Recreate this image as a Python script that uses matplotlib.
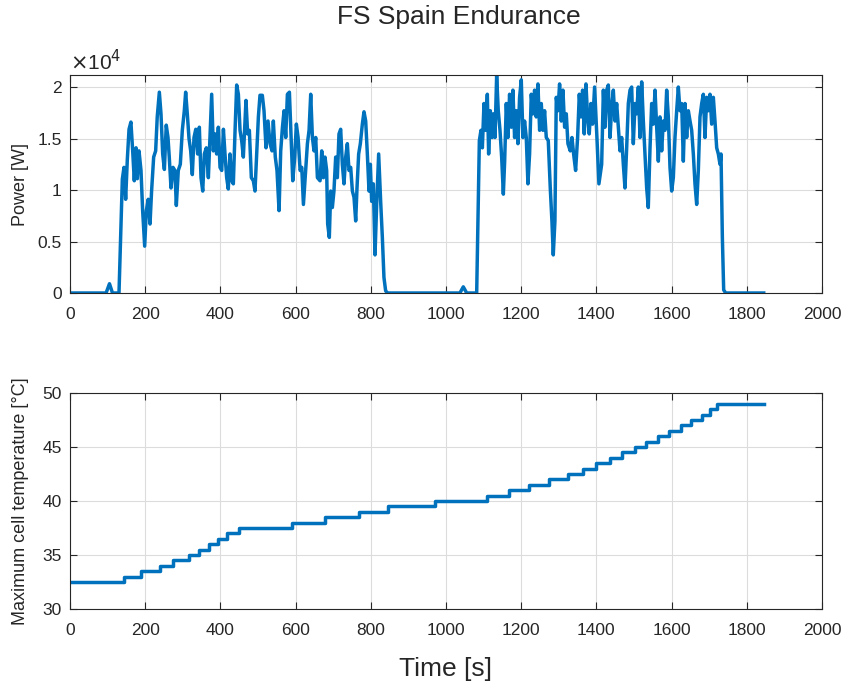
import matplotlib
matplotlib.use("Agg")
import matplotlib.pyplot as plt
import numpy as np
from matplotlib.ticker import FuncFormatter

plt.rcParams['font.family'] = ['Liberation Sans', 'DejaVu Sans']

# ---- Data ----
# Power trace (time in s, power in units of 1e4 W)
power_t = [0, 96, 105, 113, 130.3,
           139.2, 143.6, 148, 152.5, 157, 162, 166.7, 171, 175.6, 179, 183.5, 188.8, 193.2, 198.6,
           203, 208, 212.8, 217, 222.5, 227.8, 232, 237.6, 242, 246.5, 251, 256, 260.6, 264, 268.6,
           274, 279, 282.8, 288, 293.4, 298.7, 304, 307.6, 312, 316.5, 321, 325.3, 329.8, 334.5,
           339.5, 344, 348.4, 353, 357.3, 362.6, 368, 372.3, 376.8, 381.3,
           385.6, 390, 394.5, 399, 403.5, 408, 412.2, 416.7, 421, 425.5, 430, 434.4, 439, 443.3,
           447.8, 452.2, 456.6, 461, 465.4, 468, 472.5, 477, 482.3, 487.6, 492, 496.5, 501, 505.3,
           511.5, 516, 521.3, 526.6, 532, 537.3, 540.8, 546, 550.5, 556, 560.4, 565, 569.3, 573.7,
           578.2, 583.5, 588, 592.4, 597.7, 602, 606.6, 612, 616.4, 620.8, 626, 631.4, 635.8,
           640.2, 644.7, 649, 653.5, 658,
           665, 669.5, 674, 678.2, 682.6, 685.3, 689.7, 693.3, 697.7, 702, 706.6, 711, 715.4,
           719.9, 724.3, 728.7, 733.2, 737.6, 742, 746.5, 751, 755.3, 759.8, 763.3, 767.7, 772.2,
           777.5, 781.9, 786.4, 790.8, 795.2, 798.8, 802.3, 806.7, 811.2, 815.6, 820.9, 826.2,
           830.7, 835, 839.5, 845,
           1037, 1046, 1055, 1081.6,
           1088.7, 1093, 1096.7, 1101, 1105.5, 1109.9, 1113.4, 1117.8, 1122.3, 1125.9, 1130.3,
           1134.7, 1139, 1143.6, 1148, 1152.5, 1156, 1160.3, 1164.7, 1169.1, 1173.6, 1178, 1182.4,
           1186.9, 1191.3, 1195.7, 1200.2, 1204.6, 1209, 1213.5, 1217.9, 1222.3, 1226.8, 1231.2,
           1235.6, 1240, 1244.5, 1249, 1253.4, 1257.8, 1262.2, 1266.7, 1272, 1277.3, 1281.7,
           1285.3, 1289.7, 1293.3, 1297.7, 1302.1, 1306.6, 1311, 1315.5, 1319.9, 1324.3, 1330.5,
           1335, 1339.4, 1344.7, 1350, 1354.5, 1358.9, 1363.3, 1367.7, 1372.2, 1376.6, 1381,
           1385.5, 1389.9, 1395.2, 1401.4, 1406.7,
           1414, 1418.5, 1422.9, 1427.3, 1431.7, 1436.2, 1440.6, 1445, 1449.5, 1453.9, 1458.3,
           1462.8, 1467.2, 1471.6, 1476, 1480.5, 1484.9, 1489.4, 1493.8, 1498.2, 1502.7, 1507,
           1511.5, 1516, 1520.4, 1524.8, 1529.2, 1533.7, 1538, 1542.6, 1547, 1551.4, 1555.9,
           1560.3, 1564.7, 1569.1, 1573.6, 1578, 1582.4, 1586.9, 1591.3, 1595.7, 1600.2, 1604.6,
           1609, 1613.5, 1617.9, 1622.3, 1626.8, 1631.2, 1635.6, 1640.1, 1644.5, 1649, 1653.4,
           1657.8, 1662.2, 1666.7, 1671.1, 1675.5, 1680, 1684.4, 1688.8, 1693.3, 1697.7, 1702.1,
           1706.6, 1711, 1715.4, 1719.9, 1724.3, 1728.7, 1731.4, 1735, 1738.5, 1743.8, 1845]

power_val = [0, 0, 0.09, 0, 0,
             1.106, 1.22, 0.91, 1.30, 1.59, 1.66, 1.38, 1.09, 1.41, 1.11, 1.38, 1.19, 0.80, 0.455,
             0.80, 0.91, 0.67, 0.99, 1.32, 1.38, 1.71, 1.95, 1.74, 1.35, 1.20, 1.63, 1.51, 1.32, 1.02,
             1.22, 1.19, 0.85, 1.19, 1.25, 1.58, 1.77, 1.95, 1.74, 1.50, 1.38, 1.15, 1.51, 1.59,
             1.35, 1.61, 1.12, 0.99, 1.35, 1.41, 1.12, 1.51, 1.93, 1.38,
             1.545, 1.35, 1.61, 1.22, 1.19, 1.59, 1.35, 1.12, 1.01, 1.35, 1.09, 1.06, 1.58, 2.02,
             1.93, 1.58, 1.48, 1.32, 1.67, 1.87, 1.545, 1.58, 1.12, 1.09, 0.99, 1.35, 1.71, 1.92,
             1.92, 1.77, 1.41, 1.67, 1.45, 1.38, 1.67, 1.32, 1.19, 0.80, 1.38, 1.61, 1.77, 1.51,
             1.93, 1.95, 1.51, 1.09, 1.32, 1.64, 1.51, 1.19, 1.22, 0.86, 1.15, 1.45, 1.58,
             1.93, 1.51, 1.38, 1.51, 1.12,
             1.09, 1.38, 1.12, 1.32, 1.19, 0.67, 0.54, 0.99, 0.83, 0.99, 1.32, 1.12, 1.545,
             1.59, 1.25, 1.06, 1.32, 1.45, 1.19, 1.22, 0.99, 0.93, 0.70, 1.02, 1.35, 1.45,
             1.64, 1.76, 1.67, 1.35, 0.99, 1.25, 0.89, 1.06, 0.37, 0.86, 1.35, 0.89,
             0.54, 0.15, 0.02, 0,
             0, 0.06, 0, 0,
             1.48, 1.58, 1.41, 1.84, 1.58, 1.93, 1.35, 1.77, 1.51, 1.74, 1.51,
             2.11, 1.77, 1.58, 1.32, 0.96, 1.28, 1.84, 1.51, 1.93, 1.61, 1.97, 1.51,
             1.77, 1.45, 1.90, 2.07, 1.51, 1.67, 1.51, 1.06, 1.35, 1.93, 1.74,
             1.97, 1.71, 2.03, 1.58, 1.84, 1.58, 1.77, 1.51, 1.48, 1.02, 0.70,
             0.37, 0.70, 1.90, 1.77, 2.03, 1.67, 1.97, 1.61, 1.74, 1.45, 1.38,
             1.51, 1.35, 1.19, 1.51, 1.93, 1.71, 1.97, 1.545, 2.03, 1.71, 1.545,
             1.84, 1.64, 2.0, 1.51, 1.06,
             1.25, 1.97, 1.61, 1.97, 2.02, 1.51, 1.80, 1.97, 1.67, 1.84, 1.61,
             1.38, 1.51, 1.25, 1.02, 1.41, 1.84, 1.97, 2.0, 1.45, 1.84, 1.74,
             2.0, 1.51, 2.05, 1.67, 1.35, 1.02, 0.83, 1.41, 1.84, 1.64, 1.97,
             1.61, 1.28, 1.71, 1.38, 1.67, 1.58, 1.97, 1.71, 1.22, 0.99, 1.12,
             1.51, 1.77, 2.0, 1.77, 1.84, 1.28, 1.84, 1.51, 1.77, 1.67, 1.58,
             1.35, 1.06, 0.86, 1.19, 1.71, 1.84, 1.93, 1.51, 1.90, 1.77, 1.93,
             1.64, 1.90, 1.67, 1.41, 1.35, 1.25, 1.35, 0.54, 0.03, 0, 0]

# Maximum cell temperature: step times (s) and levels (degC)
temp_t = [0, 143, 188, 239, 275, 316, 344, 371, 393, 417, 450, 591, 679, 769, 847, 972,
          1108, 1168, 1222, 1274, 1325, 1365, 1399, 1436, 1467, 1503, 1531, 1565, 1594,
          1624, 1651, 1680, 1702, 1721, 1845]
temp_val = [32.5, 33.0, 33.5, 34.0, 34.5, 35.0, 35.5, 36.0, 36.5, 37.0, 37.5, 38.0, 38.5,
            39.0, 39.5, 40.0, 40.5, 41.0, 41.5, 42.0, 42.5, 43.0, 43.5, 44.0, 44.5, 45.0,
            45.5, 46.0, 46.5, 47.0, 47.5, 48.0, 48.5, 49.0, 49.0]

x_ticks = list(range(0, 2001, 200))
power_ticks = [0, 0.5, 1, 1.5, 2]
temp_ticks = [30, 35, 40, 45, 50]

# ---- Plot ----
blue = '#0072BD'
dark = '#262626'

fig = plt.figure(figsize=(8.45, 6.91), dpi=100)
ax1 = fig.add_axes([70/845, 1-293/691, 752/845, 218/691])
ax2 = fig.add_axes([70/845, 1-609/691, 752/845, 216/691])

ax1.plot(power_t, np.array(power_val) * 1e4, color=blue, lw=2.5)
ax1.set_xlim(0, 2000)
ax1.set_ylim(0, 2.117e4)
ax1.set_yticks([v * 1e4 for v in power_ticks])
ax1.yaxis.set_major_formatter(FuncFormatter(lambda v, p: '%g' % (v / 1e4)))
ax1.set_ylabel('Power [W]', fontsize=13, color=dark)
ax1.text(0.0, 1.005, r'$\times$10$^{4}$', transform=ax1.transAxes, fontsize=15,
         color=dark, ha='left', va='bottom')

ax2.step(temp_t, temp_val, where='post', color=blue, lw=2.5)
ax2.set_xlim(0, 2000)
ax2.set_ylim(30, 50)
ax2.set_yticks(temp_ticks)
ax2.set_ylabel('Maximum cell temperature [°C]', fontsize=13, color=dark)
ax2.set_xlabel('Time [s]', fontsize=19, color=dark, labelpad=14)

for ax in (ax1, ax2):
    ax.set_xticks(x_ticks)
    ax.grid(True, color='#dcdcdc', lw=0.8)
    ax.set_axisbelow(True)
    ax.tick_params(direction='in', top=True, right=True, labelsize=12.5, colors=dark,
                   length=5, width=0.8)
    ax.tick_params(axis='x', pad=10)
    ax.tick_params(axis='y', pad=6)
    ax.yaxis.set_label_coords(-0.054, 0.5)
    for s in ax.spines.values():
        s.set_color(dark)
        s.set_linewidth(0.8)

fig.text(459/845, 1-17/691, 'FS Spain Endurance', ha='center', va='center',
         fontsize=19, color=dark)

fig.savefig('out.png', dpi=100)
